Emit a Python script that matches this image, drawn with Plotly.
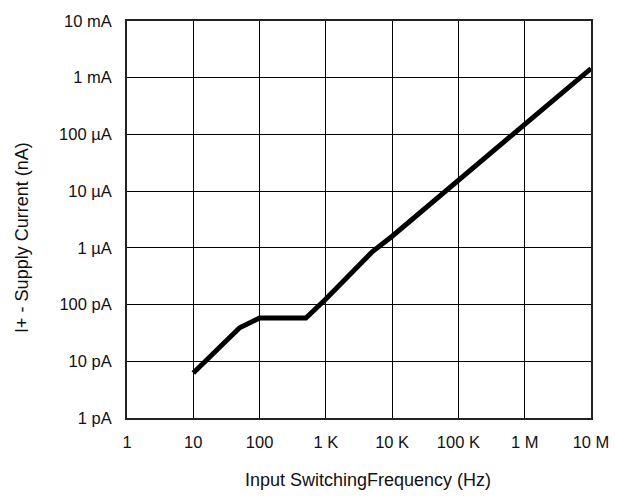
import plotly.graph_objects as go

# Data
freq_hz = [10, 50, 100, 500, 1000, 5000, 10000, 100000, 1000000, 10000000]
supply_current = [6.2, 39, 58, 58, 125, 850, 1600, 16000, 150000, 1450000]

x_tickvals = [1, 10, 100, 1e3, 1e4, 1e5, 1e6, 1e7]
x_ticktext = ["1", "10", "100", "1 K", "10 K", "100 K", "1 M", "10 M"]
y_tickvals = [1, 10, 100, 1e3, 1e4, 1e5, 1e6, 1e7]
y_ticktext = ["1 pA", "10 pA", "100 pA", "1 µA", "10 µA", "100 µA", "1 mA", "10 mA"]

x_title = "Input SwitchingFrequency (Hz)"
y_title = "I+ - Supply Current (nA)"

font_family = "Liberation Sans, Arial, sans-serif"

fig = go.Figure()
fig.add_trace(go.Scatter(
    x=freq_hz, y=supply_current, mode="lines",
    line=dict(color="black", width=5),
    showlegend=False,
))

axis_common = dict(
    type="log",
    showgrid=True, gridcolor="black", gridwidth=1,
    showline=True, linecolor="#222222", linewidth=2, mirror=True,
    ticks="", zeroline=False,
    tickfont=dict(family=font_family, size=16.5, color="#111111"),
)

fig.update_layout(
    width=621, height=500,
    margin=dict(l=127, r=30, t=17, b=82),
    paper_bgcolor="white", plot_bgcolor="white",
    font=dict(family=font_family, size=16, color="#111111"),
    xaxis=dict(
        **axis_common,
        range=[0, 7],
        tickvals=x_tickvals, ticktext=x_ticktext,
        ticklabelstandoff=8,
    ),
    yaxis=dict(
        **axis_common,
        range=[0, 7],
        tickvals=y_tickvals, ticktext=y_ticktext,
        ticklabelstandoff=10,
    ),
    annotations=[
        dict(text=x_title, xref="paper", yref="paper", x=0.519, y=-0.157,
             xanchor="center", yanchor="middle", showarrow=False,
             font=dict(family=font_family, size=18, color="#111111")),
        dict(text=y_title, xref="paper", yref="paper", x=-0.226, y=0.454,
             xanchor="center", yanchor="middle", showarrow=False, textangle=-90,
             font=dict(family=font_family, size=18, color="#111111")),
    ],
)

fig.write_html("out.html", config={"displayModeBar": False},
               post_script="document.body.style.margin='0px';")
